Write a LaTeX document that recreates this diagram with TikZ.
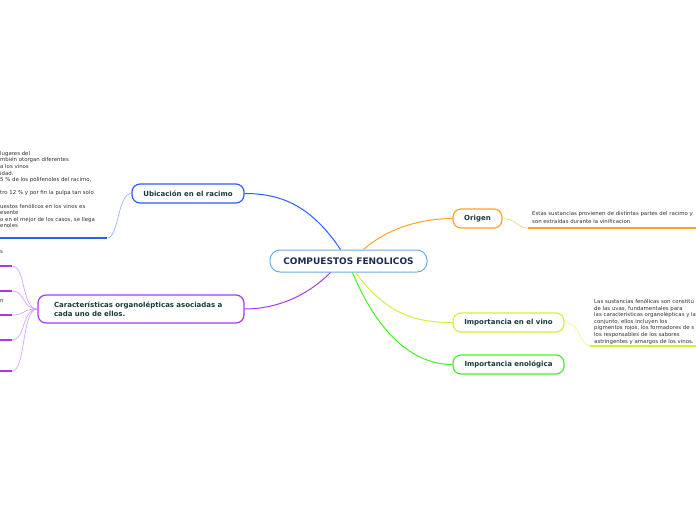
\documentclass[tikz,border=0pt]{standalone}
\usepackage{fontspec}
\setmainfont{DejaVu Sans}
\definecolor{labelcol}{HTML}{173B3B}
\definecolor{titlecol}{HTML}{1C2C50}
\definecolor{notecol}{HTML}{333333}
\definecolor{cfblue}{HTML}{6AAEE0}
\definecolor{ubiblue}{HTML}{2E5CFF}
\definecolor{ubithin}{HTML}{8EA8FF}
\definecolor{carpurple}{HTML}{A838F0}
\definecolor{carthin}{HTML}{D49AFF}
\definecolor{oriorange}{HTML}{FFA424}
\definecolor{orithin}{HTML}{FFCC80}
\definecolor{vinoyellow}{HTML}{D8F030}
\definecolor{vinothin}{HTML}{EAF890}
\definecolor{enogreen}{HTML}{48F024}

\begin{document}
\begin{tikzpicture}[x=1pt, y=-1pt,
    topic/.style={draw, fill=white, rounded corners=8pt, line width=1.2pt,
      inner sep=0pt, minimum height=19pt, text=labelcol,
      font=\fontsize{7}{9}\selectfont\bfseries},
    note/.style={anchor=north west, align=left, inner sep=0pt, text=notecol,
      font=\fontsize{5.4}{6.6}\selectfont},
    branch/.style={line width=1pt},
    twig/.style={line width=0.6pt},
    uline/.style={line width=1.8pt}]
  \useasboundingbox (0,0) rectangle (696,520);
  \clip (0,0) rectangle (696,520);
  \fill[white] (0,0) rectangle (696,520);

  \node (cf) at (348.5,261) [topic, draw=cfblue, line width=1pt, rounded corners=10pt,
    minimum width=157pt, minimum height=22pt, text=titlecol,
    font=\fontsize{9}{11}\selectfont\bfseries] {COMPUESTOS FENOLICOS};
  \node (ubi) at (188,193.5) [topic, draw=ubiblue, minimum width=112pt] {Ubicación en el racimo};
  \node (car) at (141,309) [topic, draw=carpurple, minimum height=28pt,
    text width=174pt, inner xsep=16pt, align=left]
    {Características organolépticas asociadas a\\cada uno de ellos.};
  \node (ori) at (477.5,218.5) [topic, draw=oriorange, minimum width=49pt] {Origen};
  \node (imv) at (508.5,322.5) [topic, draw=vinoyellow, minimum width=111pt] {Importancia en el vino};
  \node (ime) at (508.5,364.5) [topic, draw=enogreen, minimum width=111pt] {Importancia enológica};

  \draw[branch, ubiblue] ([xshift=-8pt]cf.north) .. controls +(-30,-45) and +(35,0) .. (ubi.east);
  \draw[branch, carpurple] ([xshift=-18pt]cf.south) .. controls +(-25,25) and +(30,0) .. (car.east);
  \draw[branch, oriorange] ([xshift=15pt]cf.north) .. controls +(25,-22) and +(-30,0) .. (ori.west);
  \draw[branch, vinoyellow] ([xshift=7pt]cf.south) .. controls +(30,40) and +(-40,0) .. (imv.west);
  \draw[branch, enogreen] ([xshift=4pt]cf.south) .. controls +(25,60) and +(-40,0) .. (ime.west);

  \node (ubinote) at (0,151) [note]
    {lugares del\\mbién otorgan diferentes\\a los vinos\\idad.\\5 \% de los polifenoles del racimo,\\[6.6pt]
     tro 12 \% y por fin la pulpa tan solo\\[6.6pt]
     uestos fenólicos en los vinos es\\esente\\o en el mejor de los casos, se llega\\enoles};
  \coordinate (ubiend) at (107,238);
  \draw[uline, ubiblue] (0,238) -- (ubiend);
  \draw[twig, ubithin] (ubi.west) .. controls +(-14,0) and +(12,0) .. (ubiend);

  \node (cars) at (0,250.5) [note] {s};
  \node (carn) at (0,299.5) [note] {n};
  \foreach \yy in {266,291,315,340,371} {
    \coordinate (cl\yy) at (12,\yy);
    \draw[uline, carpurple] (0,\yy) -- (cl\yy);
    \draw[twig, carthin] (car.west) .. controls +(-16,0) and +(14,0) .. (cl\yy);
  }

  \node (orinote) at (532,211.5) [note, font=\fontsize{5.4}{7.6}\selectfont]
    {Estas sustancias provienen de distintas partes del racimo y\\son extraidas durante la vinificacion};
  \coordinate (oriend) at (528,228);
  \draw[uline, oriorange] (oriend) -- (696,228);
  \draw[twig, orithin] (ori.east) .. controls +(14,0) and +(-12,0) .. (oriend);

  \node (imvnote) at (594,299) [note]
    {Las sustancias fenólicas son constitu\\de las uvas, fundamentales para\\las características organolépticas y la\\conjunto, ellos incluyen los\\pigmentos rojos, los formadores de s\\los responsables de los sabores\\astringentes y amargos de los vinos.};
  \coordinate (imvend) at (590,346);
  \draw[uline, vinoyellow] (imvend) -- (696,346);
  \draw[twig, vinothin] (imv.east) .. controls +(16,0) and +(-10,0) .. (imvend);
\end{tikzpicture}
\end{document}
